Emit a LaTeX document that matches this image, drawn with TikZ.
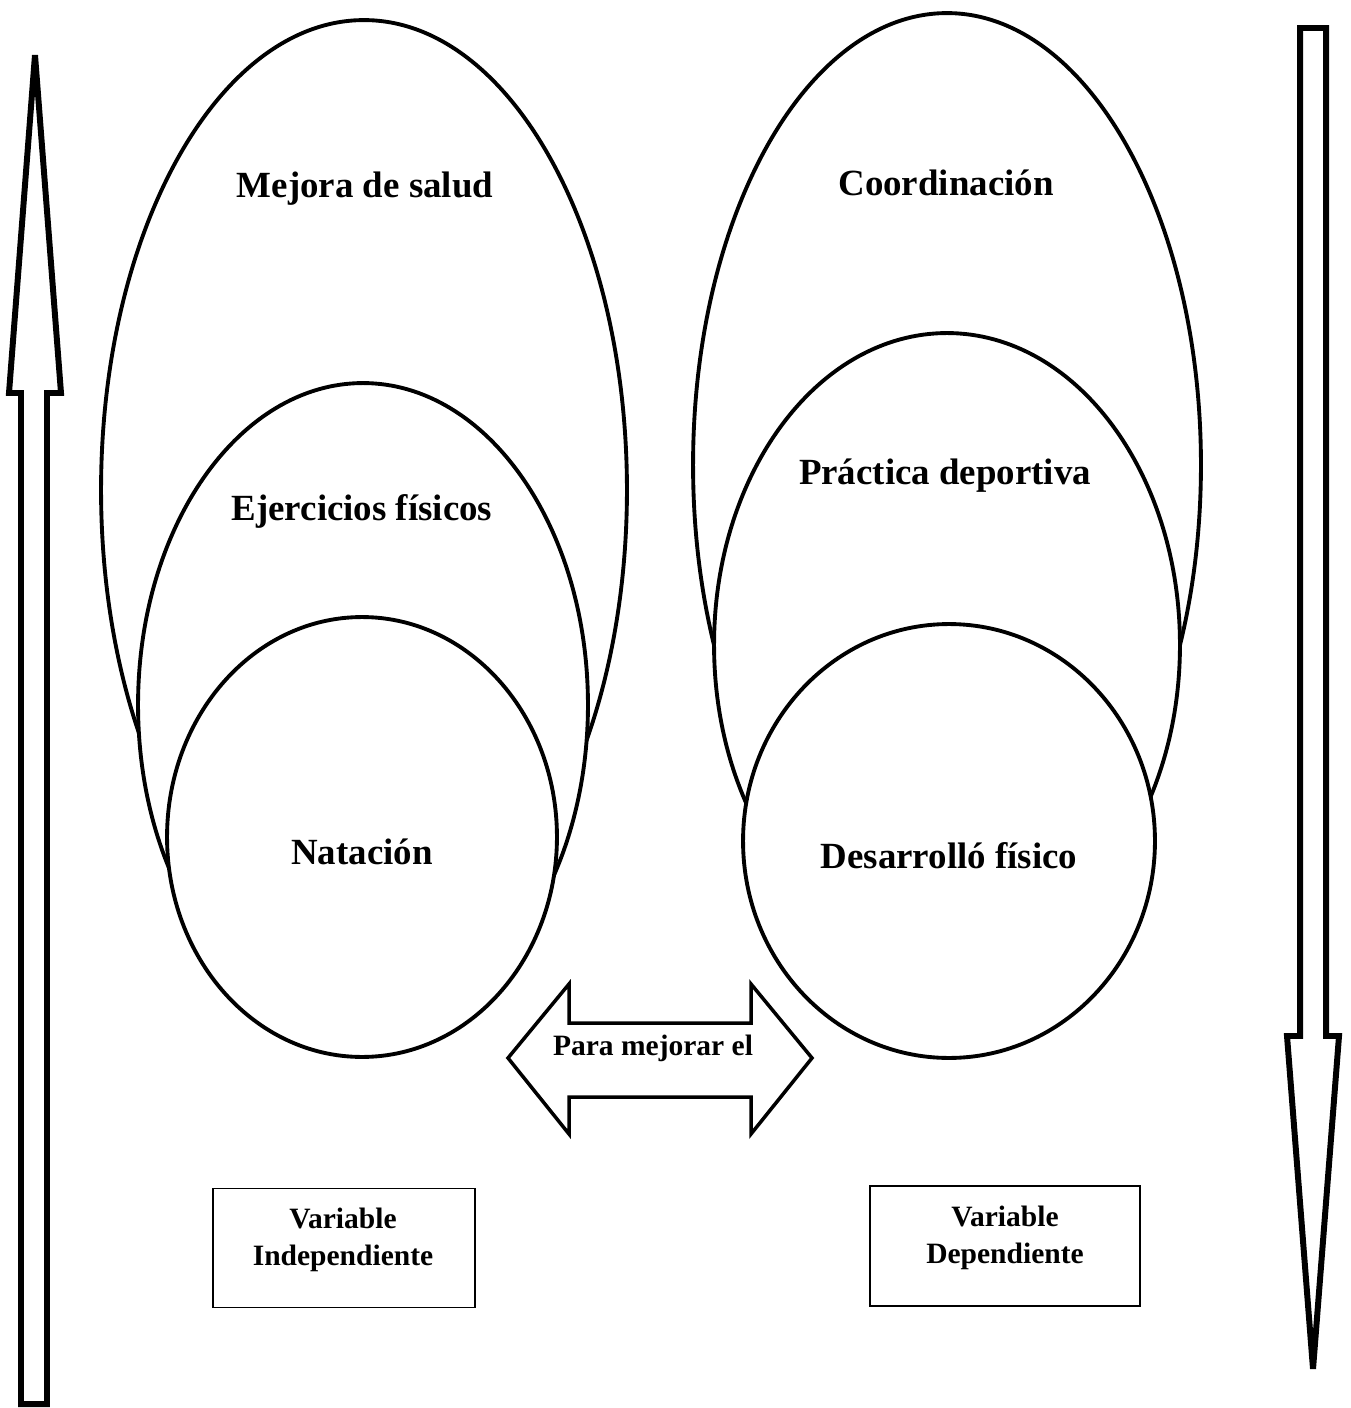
\documentclass[tikz,border=0pt]{standalone}
\usepackage{fontspec}
\setmainfont{Liberation Serif}
\usepackage{tikz}
\usetikzlibrary{shapes.geometric, positioning}
\tikzset{
  oval/.style={ellipse, draw=black, fill=white, line width=2.2pt, inner sep=0pt, outer sep=0pt},
  ovaltext/.style={font=\fontsize{21}{24}\selectfont\bfseries, anchor=base, inner sep=0pt},
  varbox/.style={rectangle, draw=black, line width=1.1pt, inner sep=0pt},
  vartext/.style={font=\fontsize{16.8}{21}\selectfont\bfseries, align=center, inner sep=0pt},
  bigarrow/.style={draw=black, line width=3.4pt, line join=miter},
  dblarrow/.style={draw=black, line width=2pt, line join=miter}
}

\begin{document}
\begin{tikzpicture}[x=0.02cm, y=-0.02cm]
  \useasboundingbox (0,0) rectangle (1350,1408);

  % variable independiente
  \node[oval, minimum width=10.52cm, minimum height=18.8cm] (salud) at (364,490) {};
  \node[oval, minimum width=9cm, minimum height=12.88cm] (ejercicios) at (363,705) {};
  \node[oval, minimum width=7.8cm, minimum height=8.8cm] (natacion) at (362,837) {};
  \node[ovaltext] (saludtxt) at (365,198) {Mejora de salud};
  \node[ovaltext] (ejerciciostxt) at (362,520) {Ejercicios físicos};
  \node[ovaltext] (nataciontxt) at (362,864) {Natación};

  % variable dependiente
  \node[oval, minimum width=10.16cm, minimum height=18.08cm] (coord) at (947,465) {};
  \node[oval, minimum width=9.32cm, minimum height=12.48cm] (practica) at (947,645) {};
  \node[oval, minimum width=8.24cm, minimum height=8.68cm] (desarrollo) at (949,841) {};
  \node[ovaltext] (coordtxt) at (946,196) {Coordinación};
  \node[ovaltext] (practicatxt) at (945,484) {Práctica deportiva};
  \node[ovaltext] (desarrollotxt) at (949,868) {Desarrolló físico};

  % flecha doble
  \draw[dblarrow] (508,1058) -- (569,984) -- (569,1023) -- (751,1023) -- (751,984)
    -- (812,1058) -- (751,1134) -- (751,1097) -- (569,1097) -- (569,1134) -- cycle;
  \node[vartext, anchor=base] (paratxt) at (653,1055) {Para mejorar el};

  % recuadros
  \node[varbox, minimum width=5.24cm, minimum height=2.38cm] (vindep) at (344,1248) {};
  \node[vartext] (vindeptxt) at (343,1240) {Variable\\Independiente};
  \node[varbox, minimum width=5.4cm, minimum height=2.4cm] (vdep) at (1005,1246) {};
  \node[vartext] (vdeptxt) at (1005,1238) {Variable\\Dependiente};

  % flechas laterales
  \draw[bigarrow] (21,1404) -- (21,393) -- (9,393) -- (35,55) -- (61,393)
    -- (47,393) -- (47,1404) -- cycle;
  \draw[bigarrow] (1300,28) -- (1326,28) -- (1326,1036) -- (1339,1036)
    -- (1313,1369) -- (1287,1036) -- (1300,1036) -- cycle;
\end{tikzpicture}
\end{document}
